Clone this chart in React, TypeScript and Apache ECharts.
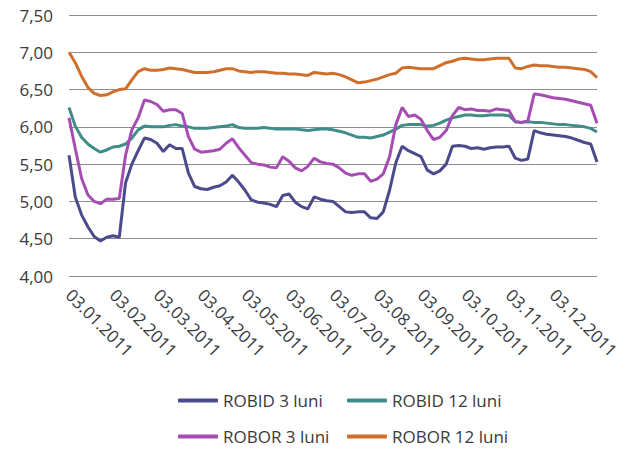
import React, { useEffect, useRef } from "react";
import * as echarts from "echarts";

const categories = [
  "03.01.2011", "07.01.2011", "11.01.2011", "15.01.2011", "19.01.2011", "23.01.2011", "27.01.2011",
  "03.02.2011", "07.02.2011", "11.02.2011", "15.02.2011", "19.02.2011", "23.02.2011", "27.02.2011",
  "03.03.2011", "07.03.2011", "11.03.2011", "15.03.2011", "19.03.2011", "23.03.2011", "27.03.2011",
  "03.04.2011", "07.04.2011", "11.04.2011", "15.04.2011", "19.04.2011", "23.04.2011", "27.04.2011",
  "03.05.2011", "07.05.2011", "11.05.2011", "15.05.2011", "19.05.2011", "23.05.2011", "27.05.2011",
  "03.06.2011", "07.06.2011", "11.06.2011", "15.06.2011", "19.06.2011", "23.06.2011", "27.06.2011",
  "03.07.2011", "07.07.2011", "11.07.2011", "15.07.2011", "19.07.2011", "23.07.2011", "27.07.2011",
  "03.08.2011", "07.08.2011", "11.08.2011", "15.08.2011", "19.08.2011", "23.08.2011", "27.08.2011",
  "03.09.2011", "07.09.2011", "11.09.2011", "15.09.2011", "19.09.2011", "23.09.2011", "27.09.2011",
  "03.10.2011", "07.10.2011", "11.10.2011", "15.10.2011", "19.10.2011", "23.10.2011", "27.10.2011",
  "03.11.2011", "07.11.2011", "11.11.2011", "15.11.2011", "19.11.2011", "23.11.2011", "27.11.2011",
  "03.12.2011", "07.12.2011", "11.12.2011", "15.12.2011", "19.12.2011", "23.12.2011", "27.12.2011",
  "31.12.2011",
];

const tickLabels = [
  "03.01.2011", "03.02.2011", "03.03.2011", "03.04.2011", "03.05.2011", "03.06.2011",
  "03.07.2011", "03.08.2011", "03.09.2011", "03.10.2011", "03.11.2011", "03.12.2011",
];

const robid3 = [
  5.62, 5.06, 4.82, 4.66, 4.53, 4.47, 4.52, 4.54, 4.52, 5.25, 5.5, 5.68, 5.85, 5.83, 5.78, 5.67, 5.76, 5.71, 5.71, 5.38, 5.2,
  5.17, 5.16, 5.19, 5.21, 5.26, 5.35, 5.26, 5.15, 5.02, 4.99, 4.98, 4.96, 4.93, 5.08, 5.1, 4.99, 4.93, 4.9, 5.06, 5.03, 5.01,
  5.0, 4.93, 4.86, 4.85, 4.86, 4.86, 4.78, 4.77, 4.86, 5.15, 5.52, 5.74, 5.68, 5.64, 5.6, 5.42, 5.37, 5.41, 5.5, 5.74, 5.75,
  5.74, 5.71, 5.72, 5.7, 5.72, 5.73, 5.73, 5.74, 5.58, 5.55, 5.57, 5.95, 5.92, 5.9, 5.89, 5.88, 5.87, 5.85, 5.82, 5.79, 5.77, 5.53,
];

const robid12 = [
  6.26, 6.01, 5.86, 5.77, 5.71, 5.66, 5.69, 5.73, 5.74, 5.77, 5.85, 5.96, 6.01, 6.0, 6.0, 6.0, 6.02, 6.03, 6.01, 6.0, 5.98,
  5.98, 5.98, 5.99, 6.0, 6.01, 6.03, 5.99, 5.98, 5.98, 5.98, 5.99, 5.98, 5.97, 5.97, 5.97, 5.97, 5.96, 5.95, 5.96, 5.97, 5.97,
  5.96, 5.94, 5.92, 5.89, 5.86, 5.86, 5.85, 5.87, 5.89, 5.93, 5.97, 6.02, 6.03, 6.03, 6.03, 6.01, 6.02, 6.05, 6.09, 6.12, 6.14,
  6.16, 6.16, 6.15, 6.15, 6.16, 6.16, 6.16, 6.15, 6.07, 6.06, 6.07, 6.06, 6.06, 6.05, 6.04, 6.03, 6.03, 6.02, 6.01, 6.0, 5.98, 5.93,
];

const robor3 = [
  6.12, 5.71, 5.31, 5.09, 5.0, 4.97, 5.03, 5.03, 5.04, 5.62, 5.96, 6.12, 6.36, 6.34, 6.3, 6.21, 6.23, 6.23, 6.18, 5.87, 5.7,
  5.66, 5.67, 5.68, 5.7, 5.78, 5.84, 5.72, 5.62, 5.52, 5.5, 5.49, 5.46, 5.45, 5.6, 5.54, 5.45, 5.41, 5.47, 5.58, 5.53, 5.51,
  5.5, 5.45, 5.38, 5.35, 5.37, 5.37, 5.27, 5.3, 5.37, 5.6, 6.03, 6.26, 6.14, 6.16, 6.1, 5.95, 5.83, 5.86, 5.95, 6.15, 6.26,
  6.23, 6.24, 6.22, 6.22, 6.21, 6.24, 6.23, 6.22, 6.07, 6.06, 6.08, 6.44, 6.43, 6.41, 6.39, 6.38, 6.37, 6.35, 6.33, 6.31, 6.29, 6.05,
];

const robor12 = [
  7.0, 6.86, 6.68, 6.53, 6.45, 6.42, 6.43, 6.47, 6.5, 6.51, 6.63, 6.74, 6.78, 6.76, 6.76, 6.77, 6.79, 6.78, 6.77, 6.75, 6.73,
  6.73, 6.73, 6.74, 6.76, 6.78, 6.78, 6.75, 6.74, 6.73, 6.74, 6.74, 6.73, 6.72, 6.72, 6.71, 6.71, 6.7, 6.69, 6.73, 6.72, 6.71,
  6.72, 6.7, 6.67, 6.63, 6.59, 6.6, 6.62, 6.64, 6.67, 6.7, 6.72, 6.79, 6.8, 6.79, 6.78, 6.78, 6.78, 6.82, 6.86, 6.88, 6.91,
  6.92, 6.91, 6.9, 6.9, 6.91, 6.92, 6.92, 6.92, 6.79, 6.78, 6.81, 6.83, 6.82, 6.82, 6.81, 6.8, 6.8, 6.79, 6.78, 6.77, 6.74, 6.66,
];

const seriesNames = ["ROBID 3 luni", "ROBID 12 luni", "ROBOR 3 luni", "ROBOR 12 luni"];
const seriesColors = ["#4b4b8c", "#3f8c88", "#a64db3", "#d06f2c"];

const FONT = "'Open Sans', 'Noto Sans', sans-serif";
const TEXT = "#3a3a3a";

export default function App() {
  const ref = useRef<HTMLDivElement>(null);

  useEffect(() => {
    if (!ref.current) return;
    const chart = echarts.init(ref.current, undefined, { renderer: "svg" });
    const allData = [robid3, robid12, robor3, robor12];

    const legendPos = [
      { left: 178, top: 392 },
      { left: 347, top: 392 },
      { left: 178, top: 428 },
      { left: 347, top: 428 },
    ];

    chart.setOption({
      animation: false,
      backgroundColor: "#ffffff",
      grid: { left: 69, right: 43, top: 15, bottom: 174, containLabel: false },
      legend: seriesNames.map((name, i) => ({
        data: [name],
        left: legendPos[i].left,
        top: legendPos[i].top,
        icon: "roundRect",
        itemWidth: 40,
        itemHeight: 4,
        padding: 0,
        textStyle: { fontFamily: FONT, fontSize: 17, color: TEXT },
      })),
      xAxis: {
        type: "category",
        boundaryGap: false,
        data: categories,
        axisLine: { show: false },
        axisTick: { show: false },
        splitLine: { show: false },
        axisLabel: {
          interval: (_idx: number, value: string) => tickLabels.includes(value),
          rotate: -45,
          margin: 16,
          fontFamily: FONT,
          fontSize: 17,
          color: TEXT,
        },
      },
      yAxis: {
        type: "value",
        min: 4,
        max: 7.5,
        interval: 0.5,
        axisLine: { show: false },
        axisTick: { show: false },
        splitLine: { show: true, lineStyle: { color: "#8c8c8c", width: 1 } },
        axisLabel: {
          margin: 16,
          fontFamily: FONT,
          fontSize: 17,
          color: TEXT,
          formatter: (v: number) => v.toFixed(2).replace(".", ","),
        },
      },
      series: seriesNames.map((name, i) => ({
        name,
        type: "line",
        data: allData[i],
        symbol: "none",
        smooth: false,
        lineStyle: { color: seriesColors[i], width: 3 },
        itemStyle: { color: seriesColors[i] },
      })),
    });

    return () => chart.dispose();
  }, []);

  return (
    <div
      ref={ref}
      style={{ position: "fixed", left: 0, top: 0, width: 640, height: 450, background: "#fff" }}
    />
  );
}
